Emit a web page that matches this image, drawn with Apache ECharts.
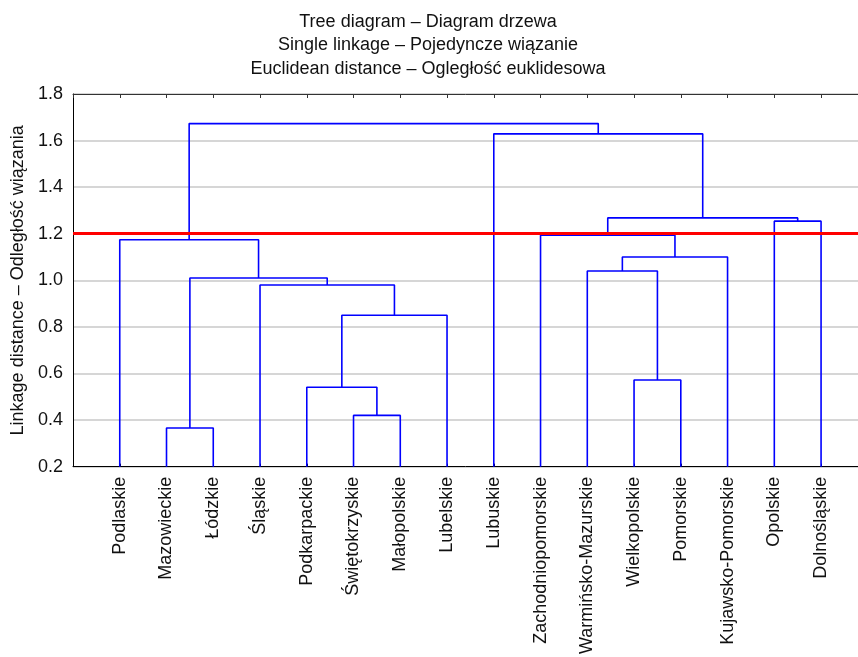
<!DOCTYPE html>
<html><head><meta charset="utf-8">
<script src="https://cdn.jsdelivr.net/npm/echarts@6/dist/echarts.min.js"></script>
<style>html,body{margin:0;padding:0;background:#fff}#c{width:858px;height:657px}</style>
</head><body><div id="c"></div>
<script>
// Leaves (order of the dendrogram)
const leaves = ['Podlaskie','Mazowieckie','Łódzkie','Śląskie','Podkarpackie','Świętokrzyskie','Małopolskie','Lubelskie','Lubuskie','Zachodniopomorskie','Warmińsko-Mazurskie','Wielkopolskie','Pomorskie','Kujawsko-Pomorskie','Opolskie','Dolnośląskie'];
// Merge steps: ids < 16 are leaves, id 16+k is the cluster created by step k
const mergeA =      [1,    5,    4,    11,   18,   3,    16,   10,   23,   0,    9,    14,   26,   8,    25];
const mergeB =      [2,    6,    17,   12,   7,    20,   21,   19,   13,   22,   24,   15,   27,   28,   29];
const mergeHeight = [0.366,0.42, 0.541,0.572,0.85, 0.98, 1.01, 1.04, 1.10, 1.174,1.194,1.254,1.268,1.629,1.673];
const cutLevel = 1.2;
const titleLines = ['Tree diagram – Diagram drzewa','Single linkage – Pojedyncze wiązanie','Euclidean distance – Ogległość euklidesowa'];
const yAxisTitle = 'Linkage distance – Odległość wiązania';
const yMin = 0.2, yMax = 1.8, yStep = 0.2;

const FONT = '"Liberation Sans", Arial, sans-serif';
const pos = leaves.map((_, i) => i);
const hgt = leaves.map(() => yMin);
const series = [];
mergeA.forEach((a, k) => {
  const b = mergeB[k], H = mergeHeight[k];
  pos.push((pos[a] + pos[b]) / 2);
  hgt.push(H);
  series.push({
    type: 'line', symbol: 'none', silent: true, animation: false,
    lineStyle: { color: '#0000ff', width: 1.6 },
    data: [[pos[a], hgt[a]], [pos[a], H], [pos[b], H], [pos[b], hgt[b]]]
  });
});
series.push({
  type: 'line', data: [], symbol: 'none', animation: false, z: 5,
  markLine: { silent: true, symbol: 'none', label: { show: false }, animation: false,
    lineStyle: { color: '#ff0000', width: 3, type: 'solid' },
    data: [{ yAxis: cutLevel }] }
});

const chart = echarts.init(document.getElementById('c'));
const xCommon = {
  type: 'value', min: -1, max: 15.79, interval: 1,
  splitLine: { show: false }
};
chart.setOption({
  animation: false,
  backgroundColor: '#fff',
  graphic: [{
    type: 'text', x: 428, y: 10,
    style: { text: titleLines.join('\n'), textAlign: 'center', textVerticalAlign: 'top',
      font: '18px ' + FONT, lineHeight: 23.5, fill: '#111' }
  }],
  grid: { left: 73, right: 0, top: 94, bottom: 189 },
  xAxis: [
    Object.assign({}, xCommon, {
      position: 'bottom',
      axisLine: { onZero: false, lineStyle: { color: '#000', width: 1 } },
      axisTick: { show: true, inside: true, length: 3, lineStyle: { color: '#000' } },
      axisLabel: { rotate: 90, margin: 10, fontSize: 18, fontFamily: FONT, color: '#111',
        formatter: v => (Number.isInteger(v) && v >= 0 && v < leaves.length) ? leaves[v] : '' }
    }),
    Object.assign({}, xCommon, {
      position: 'top',
      axisLine: { show: true, onZero: false, lineStyle: { color: '#333', width: 1 } },
      axisTick: { show: true, inside: true, length: 4, lineStyle: { color: '#333' } },
      axisLabel: { show: false }
    })
  ],
  yAxis: {
    type: 'value', min: yMin, max: yMax, interval: yStep,
    name: yAxisTitle, nameLocation: 'middle', nameGap: 46,
    nameTextStyle: { fontSize: 18, fontFamily: FONT, color: '#111' },
    axisLine: { show: true, onZero: false, lineStyle: { color: '#000', width: 1 } },
    axisTick: { show: false },
    axisLabel: { fontSize: 18, fontFamily: FONT, color: '#111', margin: 10, formatter: v => v.toFixed(1) },
    splitLine: { show: true, lineStyle: { color: '#c8c8c8', width: 1.5 } }
  },
  series: series
});
</script></body></html>
